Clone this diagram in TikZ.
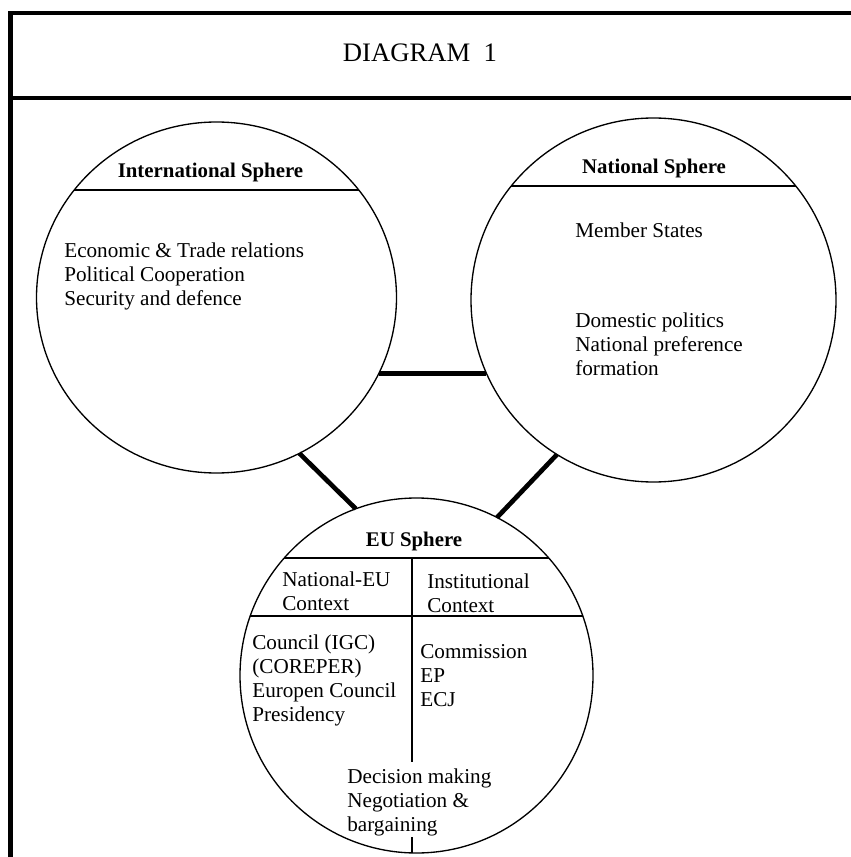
\documentclass[tikz,border=0pt]{standalone}
\usepackage{fontspec}
\setmainfont{Liberation Serif}
\usetikzlibrary{shapes.geometric}
\begin{document}
\begin{tikzpicture}[x=0.6pt,y=-0.6pt,
  sphere/.style={ellipse, draw, line width=0.8pt, inner sep=0pt, outer sep=0pt},
  frameline/.style={line width=2.7pt, line join=miter},
  link/.style={line width=2.8pt},
  chord/.style={line width=1.7pt},
  thinchord/.style={line width=1.1pt},
  divider/.style={line width=1.6pt},
  title/.style={font=\fontsize{12.5}{15}\selectfont\bfseries, inner sep=0pt, anchor=base},
  body/.style={font=\fontsize{12.7}{14.4}\selectfont, align=left, anchor=north west, inner sep=0pt},
]
\useasboundingbox (0,0) rectangle (850,857);
% frame
\draw[frameline] (852,13) -- (10.5,13) -- (10.5,859);
\draw[frameline] (10.5,98) -- (852,98);
\node[font=\fontsize{16}{19}\selectfont, inner sep=0pt, anchor=base] (hdr) at (420,62) {DIAGRAM~~1};

% spheres
\node[sphere, minimum width=216pt, minimum height=210.6pt] (intl) at (216.5,297.5) {};
\node[sphere, minimum width=219pt, minimum height=218.4pt] (nat) at (653.5,300) {};
\node[sphere, minimum width=211.8pt, minimum height=213pt] (eu) at (416.5,675.5) {};

% chords
\begin{scope}
  \clip (216.5,297.5) ellipse [x radius=108pt, y radius=105.3pt];
  \draw[chord] (0,190) -- (450,190);
\end{scope}
\begin{scope}
  \clip (653.5,300) ellipse [x radius=109.5pt, y radius=109.2pt];
  \draw[chord] (450,186) -- (850,186);
\end{scope}
\begin{scope}
  \clip (416.5,675.5) ellipse [x radius=105.9pt, y radius=106.5pt];
  \draw[chord] (200,558) -- (650,558);
  \draw[thinchord] (200,616) -- (650,616);
  \draw[divider] (412,558) -- (412,762);
  \draw[divider] (412,837) -- (412,870);
\end{scope}

% connectors
\draw[link] (intl.-25) -- (intl.-25 -| nat.203.6);
\draw[link] (intl.-62) -- (eu.110.4);
\draw[link] (nat.238.4) -- (eu.63.1);

% titles
\node[title] (intlT) at (210.5,178) {International Sphere};
\node[title] (natT) at (654,174) {National Sphere};
\node[title] (euT) at (414,546.5) {EU Sphere};

% texts
\node[body] (intlB) at (64,242) {Economic \& Trade relations\\Political Cooperation\\Security and defence};
\node[body] (natM) at (575,222) {Member States};
\node[body] (natD) at (575,312) {Domestic politics\\National preference\\formation};
\node[body] (euL) at (282,571) {National-EU\\Context};
\node[body] (euR) at (427,573) {Institutional\\Context};
\node[body] (euL2) at (252,634) {Council (IGC)\\(COREPER)\\Europen Council\\Presidency};
\node[body] (euR2) at (420,644) {Commission\\EP\\ECJ};
\node[body] (euB) at (347,768) {Decision making\\Negotiation \&\\bargaining};
\end{tikzpicture}
\end{document}
